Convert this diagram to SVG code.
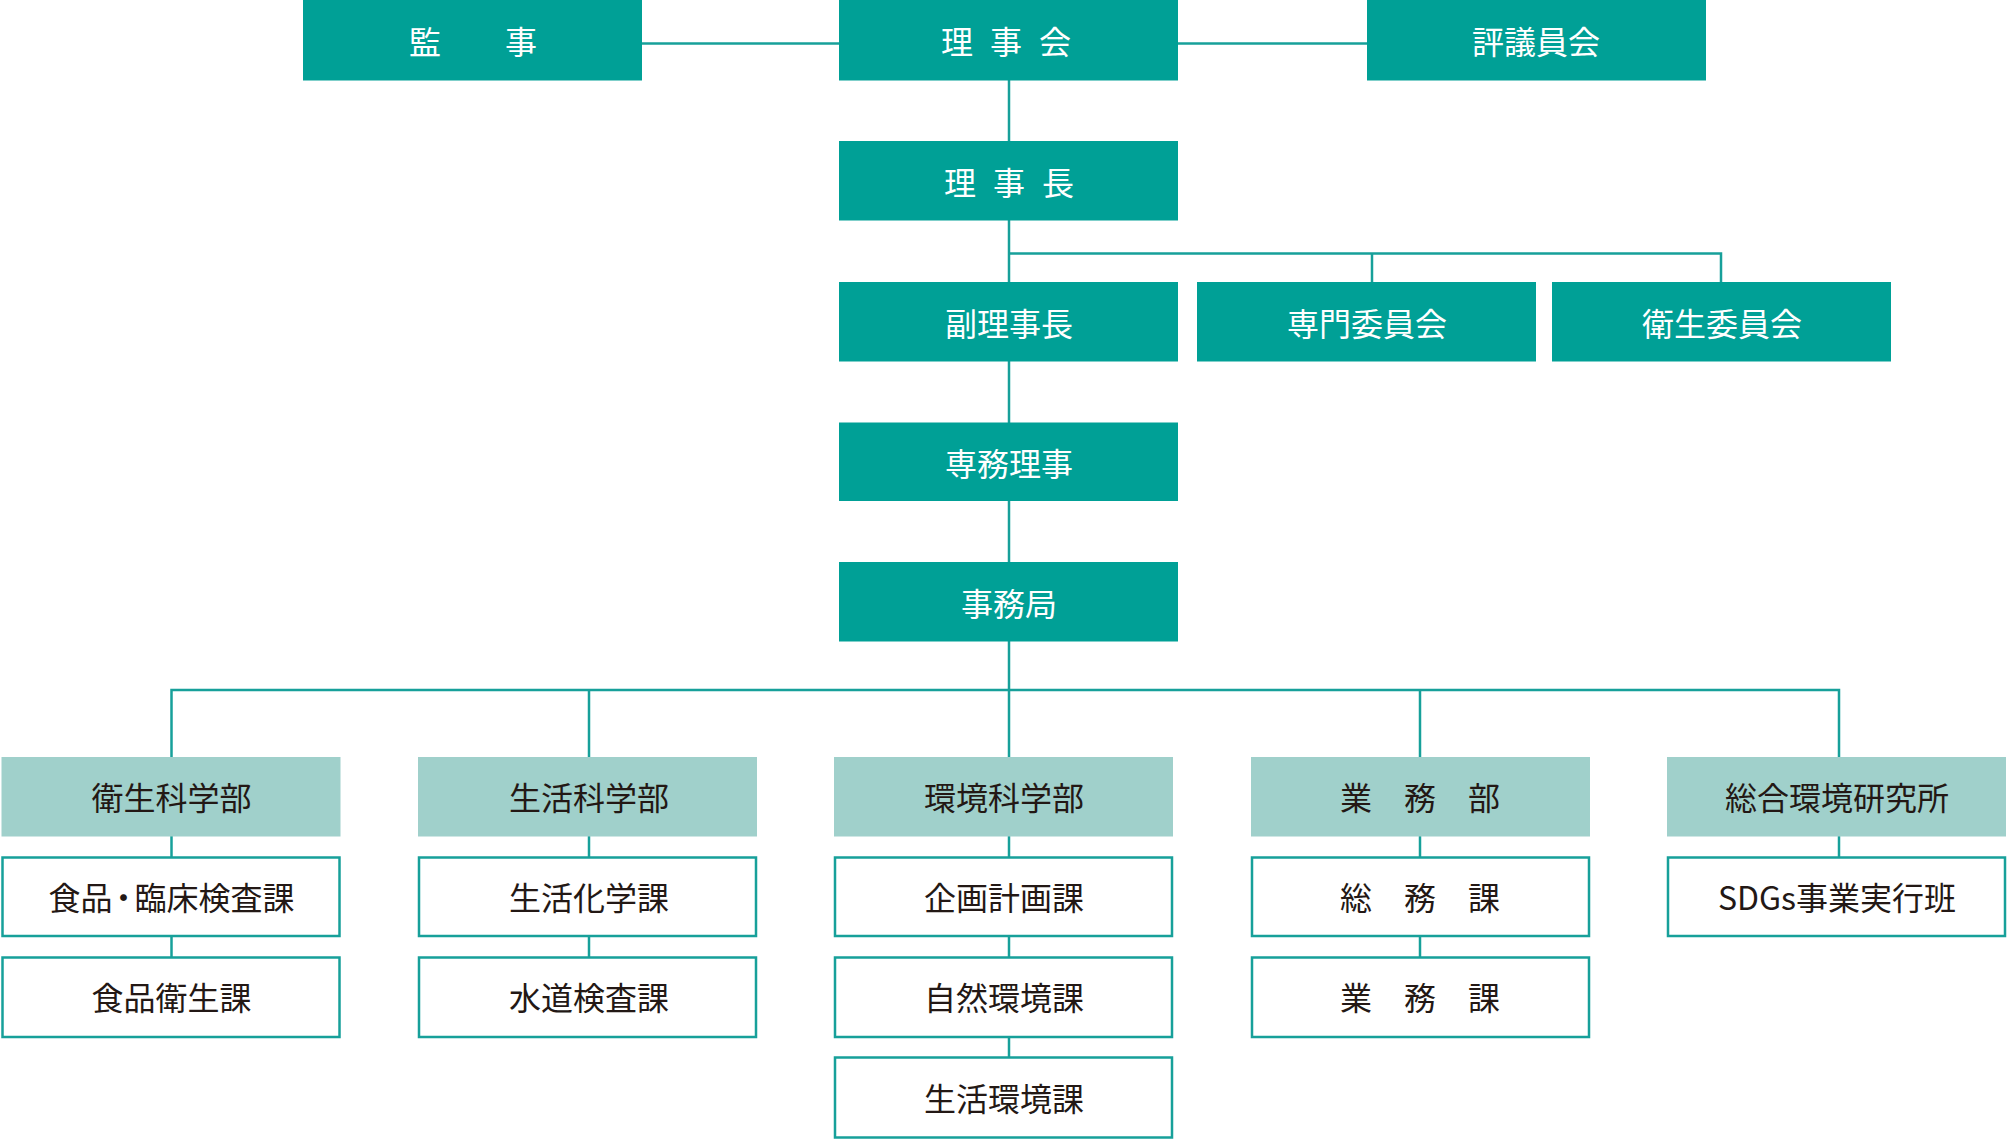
<svg xmlns="http://www.w3.org/2000/svg" width="2008" height="1147" viewBox="0 0 2008 1147">
<style>
.dark{fill:#00a096}
.light{fill:#a0d0cb}
.white{fill:#ffffff;stroke:#17a09a;stroke-width:2.5}
.tw{fill:#ffffff;font-family:"Noto Sans CJK JP","Noto Sans",sans-serif;font-size:32px;text-anchor:middle;dominant-baseline:central}
.td{fill:#231815;font-family:"Noto Sans CJK JP","Noto Sans",sans-serif;font-size:32px;text-anchor:middle;dominant-baseline:central}
.ln{stroke:#17a09a;stroke-width:2.5;fill:none}
</style>
<rect width="2008" height="1147" fill="#ffffff"/>
<g id="connectors" class="ln">
<line x1="641" y1="43.5" x2="839" y2="43.5"/>
<line x1="1178" y1="43.5" x2="1367" y2="43.5"/>
<line x1="1009" y1="80" x2="1009" y2="141"/>
<line x1="1009" y1="220" x2="1009" y2="282"/>
<polyline points="1009,253.5 1721,253.5 1721,282"/>
<line x1="1372" y1="253.5" x2="1372" y2="282"/>
<line x1="1009" y1="361" x2="1009" y2="423"/>
<line x1="1009" y1="500" x2="1009" y2="562"/>
<line x1="1009" y1="641" x2="1009" y2="757"/>
<polyline points="171.5,757 171.5,690 1839,690 1839,757"/>
<line x1="589" y1="690" x2="589" y2="757"/>
<line x1="1420" y1="690" x2="1420" y2="757"/>
<line x1="171.5" y1="836" x2="171.5" y2="957"/>
<line x1="589" y1="836" x2="589" y2="957"/>
<line x1="1009" y1="836" x2="1009" y2="1057"/>
<line x1="1420" y1="836" x2="1420" y2="957"/>
<line x1="1839" y1="836" x2="1839" y2="857"/>
</g>
<g id="n-kanji"><rect class="dark" x="303" y="0" width="339" height="80.5"/><text class="tw" x="473" y="40">監　　事</text></g>
<g id="n-rijikai"><rect class="dark" x="839" y="0" width="339" height="80.5"/><text class="tw" x="957 1006 1055" y="40">理事会</text></g>
<g id="n-hyogiinkai"><rect class="dark" x="1367" y="0" width="339" height="80.5"/><text class="tw" x="1536" y="40">評議員会</text></g>
<g id="n-rijicho"><rect class="dark" x="839" y="141" width="339" height="79.5"/><text class="tw" x="960 1009 1058" y="181">理事長</text></g>
<g id="n-fukurijicho"><rect class="dark" x="839" y="282" width="339" height="79.5"/><text class="tw" x="1009" y="322">副理事長</text></g>
<g id="n-senmon"><rect class="dark" x="1197" y="282" width="339" height="79.5"/><text class="tw" x="1367" y="322">専門委員会</text></g>
<g id="n-eisei-iinkai"><rect class="dark" x="1552" y="282" width="339" height="79.5"/><text class="tw" x="1722" y="322">衛生委員会</text></g>
<g id="n-senmuriji"><rect class="dark" x="839" y="422.5" width="339" height="78.5"/><text class="tw" x="1009" y="462">専務理事</text></g>
<g id="n-jimukyoku"><rect class="dark" x="839" y="562" width="339" height="79.5"/><text class="tw" x="1009" y="602">事務局</text></g>
<g id="n-eiseikagaku"><rect class="light" x="1.5" y="757" width="339" height="79.5"/><text class="td" x="171.5" y="796">衛生科学部</text></g>
<g id="n-seikatsukagaku"><rect class="light" x="418" y="757" width="339" height="79.5"/><text class="td" x="589" y="796">生活科学部</text></g>
<g id="n-kankyokagaku"><rect class="light" x="834" y="757" width="339" height="79.5"/><text class="td" x="1004" y="796">環境科学部</text></g>
<g id="n-gyomubu"><rect class="light" x="1251" y="757" width="339" height="79.5"/><text class="td" x="1420" y="796">業　務　部</text></g>
<g id="n-sogo"><rect class="light" x="1667" y="757" width="339" height="79.5"/><text class="td" x="1837" y="796">総合環境研究所</text></g>
<g id="n-shokuhin-rinsho"><rect class="white" x="2.5" y="857.5" width="337" height="78.5"/><text class="td" x="171.5" y="896">食<tspan letter-spacing="-5">品</tspan><tspan letter-spacing="-5">・</tspan>臨床検査課</text></g>
<g id="n-shokuhin-eisei"><rect class="white" x="2.5" y="957.5" width="337" height="79.5"/><text class="td" x="171.5" y="996">食品衛生課</text></g>
<g id="n-seikatsukagakuka"><rect class="white" x="419" y="857.5" width="337" height="78.5"/><text class="td" x="589" y="896">生活化学課</text></g>
<g id="n-suido"><rect class="white" x="419" y="957.5" width="337" height="79.5"/><text class="td" x="589" y="996">水道検査課</text></g>
<g id="n-kikaku"><rect class="white" x="835" y="857.5" width="337" height="78.5"/><text class="td" x="1004" y="896">企画計画課</text></g>
<g id="n-shizen"><rect class="white" x="835" y="957.5" width="337" height="79.5"/><text class="td" x="1004" y="996">自然環境課</text></g>
<g id="n-seikatsukankyo"><rect class="white" x="835" y="1057.5" width="337" height="80"/><text class="td" x="1004" y="1097">生活環境課</text></g>
<g id="n-somu"><rect class="white" x="1252" y="857.5" width="337" height="78.5"/><text class="td" x="1420" y="896">総　務　課</text></g>
<g id="n-gyomuka"><rect class="white" x="1252" y="957.5" width="337" height="79.5"/><text class="td" x="1420" y="996">業　務　課</text></g>
<g id="n-sdgs"><rect class="white" x="1668" y="857.5" width="337" height="78.5"/><text class="td" x="1837" y="896">SDGs事業実行班</text></g>
</svg>
